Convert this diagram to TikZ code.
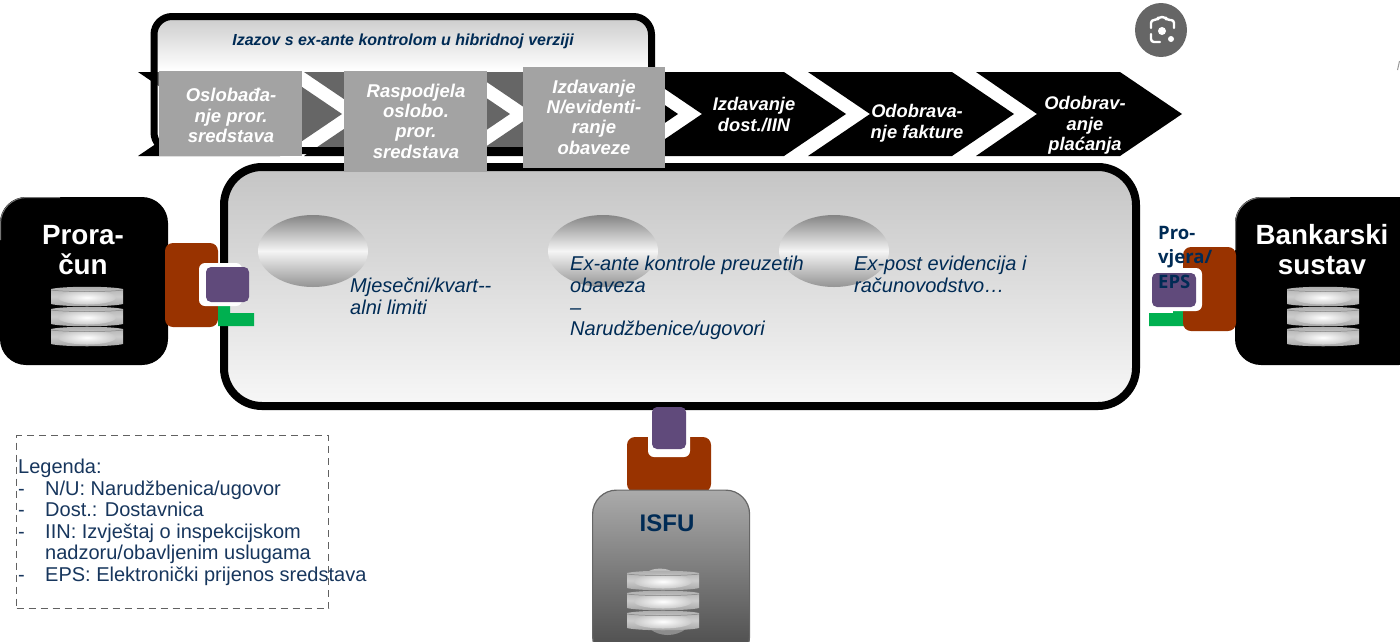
\documentclass[tikz,border=0pt]{standalone}
\usepackage{fontspec}
\setmainfont{Liberation Sans}
\newfontfamily\notafont{Open Sans}
\usetikzlibrary{calc}
\definecolor{navy}{HTML}{002B55}
\definecolor{legnavy}{HTML}{17365D}
\definecolor{brownbox}{HTML}{993300}
\definecolor{purplebox}{HTML}{604A7B}
\definecolor{greenbox}{HTML}{00B050}
\definecolor{stepgray}{HTML}{A3A3A3}
\tikzset{
  x=1pt,y=-1pt,
  chev/.style={fill=black,draw=none},
  stepbox/.style={fill=stepgray,draw=none},
  steptext/.style={text=white,font=\fontsize{18.5}{20.3}\selectfont\bfseries\itshape,align=center,inner sep=0pt},
  chevtext/.style={text=white,font=\fontsize{18.3}{20.6}\selectfont\bfseries\itshape,align=center,inner sep=0pt},
  bodytext/.style={text=navy,font=\fontsize{20}{21.7}\selectfont\itshape,align=left,inner sep=0pt,anchor=north west},
  legtext/.style={text=legnavy,font=\fontsize{20}{21.5}\selectfont,inner sep=0pt,anchor=north west,align=left},
  legdash/.style={text=legnavy,font=\fontsize{20}{21.5}\selectfont,inner sep=0pt,anchor=base west},
  brownrect/.style={fill=brownbox,draw=none,rounded corners=8pt},
  whiterect/.style={fill=white,draw=none,rounded corners=6pt},
  purplerect/.style={fill=purplebox,draw=none,rounded corners=5pt},
  greenrect/.style={fill=greenbox,draw=none},
  oval/.style={draw=none,top color=black!48,bottom color=black!42,middle color=white!96!black},
  blacksys/.style={fill=black,draw=none,rounded corners=26pt},
  sysedge/.style={draw=black!55,line width=1pt,rounded corners=26pt},
  systext/.style={text=white,font=\fontsize{27.8}{30}\selectfont\bfseries,align=center,inner sep=0pt},
  disc/.style={draw=none,top color=black!32,bottom color=black!36,middle color=black!20},
  glow/.style={draw=none,inner color=white,outer color=black!21},
}
\newcommand{\dbdisc}[3]{% x left, y top, y bottom
  \path[disc] (#1,#2+2) .. controls (#1+12,#2-1) and (#1+60,#2-1) .. (#1+72,#2+2)
     -- (#1+72,#3-2) .. controls (#1+60,#3+1) and (#1+12,#3+1) .. (#1,#3-2) -- cycle;
  \path[glow] (#1+36,{(#2+#3)/2+1}) ellipse (29 and 7);
  \draw[black!50,line width=.5pt] (#1,#2+3) .. controls (#1+12,#2+5) and (#1+60,#2+5) .. (#1+72,#2+3);
}
\newcommand{\dbstack}[2]{% x left, y offset of top
  \dbdisc{#1}{#2}{#2+19}
  \dbdisc{#1}{#2+20}{#2+39}
  \dbdisc{#1}{#2+40}{#2+59}
}
\begin{document}
\begin{tikzpicture}
\useasboundingbox (0,0) rectangle (1400,641);
\clip (0,0) rectangle (1400,641);
% chevrons
\path[chev] (138,72) -- (280,72) -- (342,114) -- (280,156) -- (138,156) -- (200,114) -- cycle;
\path[chev] (304,72) -- (448,72) -- (510,114) -- (448,156) -- (304,156) -- (366,114) -- cycle;
\path[chev] (472,72) -- (616,72) -- (678,114) -- (616,156) -- (472,156) -- (534,114) -- cycle;
\path[chev] (640,72) -- (784,72) -- (846,114) -- (784,156) -- (640,156) -- (702,114) -- cycle;
\path[chev] (808,72) -- (952,72) -- (1014,114) -- (952,156) -- (808,156) -- (870,114) -- cycle;
\path[chev] (976,72) -- (1120,72) -- (1182,114) -- (1120,156) -- (976,156) -- (1037,114) -- cycle;
% challenge callout
\begin{scope}
  \clip[rounded corners=15pt] (155,17) rectangle (651,148);
  \fill[white,opacity=.4] (150,13) rectangle (655,156);
  \shade[top color=black!20,bottom color=white] (150,17) rectangle (655,70);
\end{scope}
\draw[black,line width=7pt,rounded corners=18pt] (154,16.5) rectangle (651.5,150.5);
\node[text=navy,font=\fontsize{16}{18}\selectfont\bfseries\itshape,inner sep=0pt] (title) at (403,41) {Izazov s ex-ante kontrolom u hibridnoj verziji};
% main panel
\draw[black,line width=8pt,rounded corners=38pt,top color=black!23,bottom color=white!97!black] (224,167) rectangle (1136,406);
% step boxes
\node[stepbox,minimum width=143pt,minimum height=85pt,inner sep=0pt] (box1) at (230.5,113.5) {};
\node[stepbox,minimum width=143pt,minimum height=101pt,inner sep=0pt] (box2) at (415,121.5) {};
\node[stepbox,minimum width=142pt,minimum height=101pt,inner sep=0pt] (box3) at (594,117.5) {};
\node[steptext] (t1) at (231,115.5) {Oslobađa-\\nje pror.\\sredstava};
\node[steptext] (t2) at (416,121) {Raspodjela\\oslobo.\\pror.\\sredstava};
\node[steptext] (t3) at (594,117) {Izdavanje\\N/evidenti-\\ranje\\obaveze};
\node[chevtext] (t4) at (754,114.5) {Izdavanje\\dost./IIN};
\node[chevtext] (t5) at (917,123) {Odobrava-\\nje fakture};
\node[chevtext] (t6) at (1085,125.5) {Odobrav-\\anje\\plaćanja};
% ovals
\path[oval] (313,251) ellipse (55 and 36);
\path[oval] (603,251) ellipse (55 and 36);
\path[oval] (834,251) ellipse (55 and 36);
\node[bodytext] (m1) at (350,278) {Mjesečni/kvart{-}{-}\\alni limiti};
\node[bodytext] (m2) at (570,256) {Ex-ante kontrole preuzetih\\obaveza\\--\\Narudžbenice/ugovori};
\node[bodytext] (m3) at (854,256) {Ex-post evidencija i\\računovodstvo…};
% left system
\node[blacksys,minimum width=168pt,minimum height=168pt,inner sep=0pt] (pror) at (84,281) {};
\draw[sysedge] (0.5,240) -- (0.5,197.5) -- (60,197.5);
\node[systext] (prort) at (83,250) {Prora-\\čun};
\dbstack{51}{287}
\path[brownrect] (165,243) rectangle (218,327);
\path[greenrect] (218,306) -- (230,306) -- (230,313) -- (254,313) -- (254,326) -- (218,326) -- cycle;
\path[whiterect] (199,263) rectangle (242,306);
\path[purplerect] (206,267) rectangle (249,302);
% right system
\node[blacksys,minimum width=190pt,minimum height=168pt,inner sep=0pt] (bank) at (1330,281) {};
\draw[sysedge] (1235.5,250) -- (1235.5,197.5) -- (1290,197.5);
\node[systext] (bankt) at (1322,250) {Bankarski\\sustav};
\dbstack{1287}{287}
\path[greenrect] (1149,313) -- (1173,313) -- (1173,310) -- (1190,310) -- (1190,326) -- (1149,326) -- cycle;
\path[brownrect] (1183,247) rectangle (1236,331);
\path[whiterect] (1159,268) rectangle (1202,311);
\path[purplerect] (1152,273) rectangle (1196,307);
\node[text=navy,font=\notafont\fontsize{18.5}{24.5}\selectfont\bfseries,align=left,inner sep=0pt,anchor=north west] (prov) at (1158,226) {Pro-\\vjera/\\EPS};
% ISFU
\path[brownrect] (627,437) rectangle (711,492);
\path[whiterect] (648,425) rectangle (690,457);
\path[purplerect] (652,407) rectangle (686,449);
\node[draw=black!60,line width=1.2pt,rounded corners=24pt,top color=black!33,bottom color=black!72,minimum width=157pt,minimum height=170pt,inner sep=0pt,anchor=north west] (isfu) at (592,489.5) {};
\fill[black!45] (650,629) .. controls (660,637) and (675,637) .. (686,629) -- cycle;
\fill[black!25] (648,572) .. controls (652,567.5) and (668,567.5) .. (672,572) -- cycle;
\node[text=navy,font=\fontsize{24}{26}\selectfont\bfseries,inner sep=0pt] (isfut) at (667,523) {ISFU};
\dbstack{627}{571}
% legend
\node[draw=black!62,line width=1.3pt,dash pattern=on 7pt off 5pt,minimum width=312pt,minimum height=173pt,inner sep=0pt,anchor=north west] (leg) at (16,435) {};
\node[legtext] (legt) at (18,459) {Legenda:};
\node[legtext] (legb) at (45,480.5) {N/U: Narudžbenica/ugovor\\Dost.: Dostavnica\\IIN: Izvještaj o inspekcijskom\\nadzoru/obavljenim uslugama\\EPS: Elektronički prijenos sredstava};
\node[legdash] (legd1) at (18,495) {-};
\node[legdash] (legd2) at (18,516.5) {-};
\node[legdash] (legd3) at (18,538) {-};
\node[legdash] (legd4) at (18,581) {-};
% icon
\path[fill=black!60] (1161,30) ellipse (26 and 27);
\begin{scope}[white,line width=2.4pt,line cap=round,line join=round]
\draw[rounded corners=3pt] (1151,28) -- (1151,20) -- (1157,20) -- (1159,17) -- (1165,17) -- (1167,20) -- (1174,20) -- (1174,28);
\draw[rounded corners=3pt] (1151,34) -- (1151,42) -- (1160,42);
\fill (1162,31) circle (4);
\fill (1171,39) circle (3);
\end{scope}
\draw[black!40,line width=1pt] (1397.5,70) -- (1399.5,61);
\end{tikzpicture}
\end{document}
